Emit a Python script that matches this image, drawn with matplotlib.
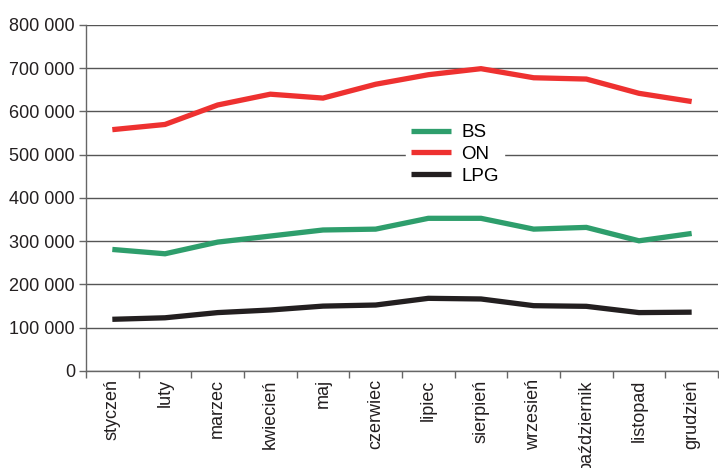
import matplotlib

matplotlib.use("Agg")
import matplotlib.pyplot as plt
from matplotlib.ticker import FuncFormatter, FixedLocator
import numpy as np

plt.rcParams["font.family"] = ["Liberation Sans", "DejaVu Sans"]

MONTHS = ["styczeń", "luty", "marzec", "kwiecień", "maj", "czerwiec",
          "lipiec", "sierpień", "wrzesień", "październik", "listopad", "grudzień"]

BS = [281000, 271000, 298000, 312000, 326000, 328000,
      353000, 353000, 328000, 332000, 301000, 318000]
ON = [558000, 570000, 615000, 640000, 631000, 663000,
      685000, 699000, 678000, 675000, 642000, 623000]
LPG = [119500, 123000, 135000, 141000, 150000, 152500,
       168000, 166500, 151000, 149500, 135000, 136000]

SERIES = [("BS", BS, "#2E9E6C"), ("ON", ON, "#EE3130"), ("LPG", LPG, "#231F20")]

fig = plt.figure(figsize=(7.19, 4.68), dpi=100)
ax = fig.add_axes([0.1196, 0.2073, 0.8790, 0.7393])

x = np.arange(len(MONTHS))
for name, values, color in SERIES:
    ax.plot(x, values, color=color, linewidth=3.8, label=name,
            solid_joinstyle="miter", solid_capstyle="butt", zorder=3)

ax.set_xlim(-0.5, len(MONTHS) - 0.5)
ax.set_ylim(0, 800000)
ax.set_yticks(np.arange(0, 800001, 100000))
ax.yaxis.set_major_formatter(FuncFormatter(lambda v, _: f"{int(v):,}".replace(",", " ")))
ax.grid(axis="y", color="#555555", linewidth=1.0, zorder=1)

# month names at category centres, tick marks at category boundaries
ax.set_xticks(x)
ax.set_xticklabels(MONTHS, rotation=90, va="top", ha="center")
ax.xaxis.set_minor_locator(FixedLocator(np.arange(-0.5, len(MONTHS), 1.0)))
ax.tick_params(axis="x", which="major", length=0, pad=6, labelsize=13, colors="#231F20")
ax.tick_params(axis="x", which="minor", length=5, width=1, color="#666666")
ax.tick_params(axis="y", length=5, width=1, color="#666666", pad=3,
               labelsize=13, labelcolor="#231F20")

for side in ("top", "right"):
    ax.spines[side].set_visible(False)
for side in ("left", "bottom"):
    ax.spines[side].set_color("#666666")
    ax.spines[side].set_linewidth(1.0)

leg = ax.legend(loc="center", bbox_to_anchor=(0.584, 0.626), frameon=True,
                fontsize=13.5, handlelength=2.1, handletextpad=0.55,
                labelspacing=0.25, borderpad=0.3)
leg.get_frame().set_facecolor("white")
leg.get_frame().set_edgecolor("white")
leg.get_frame().set_alpha(1.0)
leg.get_frame().set_boxstyle("square", pad=0.0)
leg.set_zorder(4)

fig.savefig("out.png", dpi=100)
